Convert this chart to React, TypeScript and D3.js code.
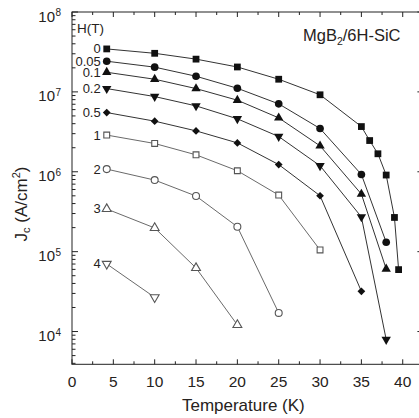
import * as d3 from "d3";
import { useEffect, useRef } from "react";

// field labels, H (T)
const fields = ["0", "0.05", "0.1", "0.2", "0.5", "1", "2", "3", "4"];

// temperatures (K) per curve
const tH0 = [4.2, 10, 15, 20, 25, 30, 35, 36, 37, 38, 39, 39.5];
const tH005 = [4.2, 10, 15, 20, 25, 30, 35, 38];
const tH01 = [4.2, 10, 15, 20, 25, 30, 35, 38];
const tH02 = [4.2, 10, 15, 20, 25, 30, 35, 38];
const tH05 = [4.2, 10, 15, 20, 25, 30, 35];
const tH1 = [4.2, 10, 15, 20, 25, 30];
const tH2 = [4.2, 10, 15, 20, 25];
const tH3 = [4.2, 10, 15, 20];
const tH4 = [4.2, 10];

// Jc (A/cm2) per curve
const jcH0 = [3.45e7, 3.04e7, 2.57e7, 2.05e7, 1.44e7, 9.2e6, 3.68e6, 2.46e6, 1.68e6, 9.1e5, 2.68e5, 5.96e4];
const jcH005 = [2.42e7, 2.04e7, 1.57e7, 1.11e7, 7.08e6, 3.48e6, 9.25e5, 1.31e5];
const jcH01 = [1.76e7, 1.44e7, 1.1e7, 7.87e6, 4.73e6, 2.11e6, 5.26e5, 6.08e4];
const jcH02 = [1.1e7, 8.74e6, 6.68e6, 4.6e6, 2.76e6, 1.19e6, 2.72e5, 7.94e3];
const jcH05 = [5.51e6, 4.3e6, 3.25e6, 2.3e6, 1.23e6, 5.01e5, 3.19e4];
const jcH1 = [2.88e6, 2.26e6, 1.63e6, 1.03e6, 5.11e5, 1.05e5];
const jcH2 = [1.08e6, 7.87e5, 4.97e5, 2.05e5, 1.71e4];
const jcH3 = [3.42e5, 1.98e5, 6.25e4, 1.21e4];
const jcH4 = [7.02e4, 2.68e4];

const xTickLabels = ["0", "5", "10", "15", "20", "25", "30", "35", "40"];
const yDecades = [4, 5, 6, 7, 8];

const temps = [tH0, tH005, tH01, tH02, tH05, tH1, tH2, tH3, tH4];
const jcs = [jcH0, jcH005, jcH01, jcH02, jcH05, jcH1, jcH2, jcH3, jcH4];
// marker: shape, filled?, rotation, size
const markers: [d3.SymbolType, boolean, number, number][] = [
  [d3.symbolSquare, true, 0, 46],
  [d3.symbolCircle, true, 0, 46],
  [d3.symbolTriangle, true, 0, 38],
  [d3.symbolTriangle, true, 180, 38],
  [d3.symbolSquare, true, 45, 30],
  [d3.symbolSquare, false, 0, 34],
  [d3.symbolCircle, false, 0, 38],
  [d3.symbolTriangle, false, 0, 34],
  [d3.symbolTriangle, false, 180, 34],
];

const W = 419,
  H = 418;
const FONT = "'Liberation Sans', Arial, sans-serif";
const TXT = "#262220";

export default function App() {
  const ref = useRef<SVGSVGElement>(null);

  useEffect(() => {
    const svg = d3.select(ref.current);
    svg.selectAll("*").remove();

    const left = 72,
      right = 423.4,
      top = 12,
      bottom = 364.3;
    const x = d3.scaleLinear().domain([0, 42.5]).range([left, right]);
    const y = d3.scaleLog().domain([Math.pow(10, 3.59), 1e8]).range([bottom, top]);

    // frame
    const frame = svg.append("g").attr("stroke", "#222").attr("stroke-width", 1).attr("fill", "none");
    frame.append("rect").attr("x", left).attr("y", top).attr("width", right - left).attr("height", bottom - top);

    // x ticks (bottom + top, inward)
    d3.range(0, 42.5, 2.5).forEach((v) => {
      const len = v % 5 === 0 ? 5 : 3;
      frame.append("line").attr("x1", x(v)).attr("x2", x(v)).attr("y1", bottom).attr("y2", bottom - len);
      frame.append("line").attr("x1", x(v)).attr("x2", x(v)).attr("y1", top).attr("y2", top + len);
    });

    // y ticks (left + right, inward)
    y.ticks().forEach((v) => {
      const major = Math.abs(Math.log10(v) - Math.round(Math.log10(v))) < 1e-9;
      const len = major ? 6 : 3.5;
      frame.append("line").attr("x1", left).attr("x2", left + len).attr("y1", y(v)).attr("y2", y(v));
      frame.append("line").attr("x1", right).attr("x2", right - len).attr("y1", y(v)).attr("y2", y(v));
    });

    // x tick labels
    svg
      .append("g")
      .selectAll("text")
      .data(xTickLabels)
      .join("text")
      .attr("x", (d) => x(+d))
      .attr("y", 387)
      .attr("text-anchor", "middle")
      .attr("font-family", FONT)
      .attr("font-size", 15.5)
      .attr("fill", TXT)
      .text((d) => d);

    // y tick labels 10^n
    const yl = svg.append("g").attr("font-family", FONT).attr("fill", TXT);
    yDecades.forEach((p) => {
      const yy = y(Math.pow(10, p));
      yl.append("text").attr("x", 55).attr("y", yy + 9.5).attr("text-anchor", "end").attr("font-size", 15).text("10");
      yl.append("text").attr("x", 55.5).attr("y", yy + 4).attr("font-size", 10).text(String(p));
    });

    // axis titles
    svg
      .append("text")
      .attr("x", (left + x(40)) / 2 + 6)
      .attr("y", 411)
      .attr("text-anchor", "middle")
      .attr("font-family", FONT)
      .attr("font-size", 17)
      .attr("fill", TXT)
      .text("Temperature (K)");

    const yt = svg
      .append("text")
      .attr("transform", "translate(27,204) rotate(-90)")
      .attr("text-anchor", "middle")
      .attr("font-family", FONT)
      .attr("font-size", 17)
      .attr("fill", TXT);
    yt.append("tspan").text("J");
    yt.append("tspan").attr("font-size", 11).attr("dy", 3).text("c");
    yt.append("tspan").attr("dy", -3).text(" (A/cm");
    yt.append("tspan").attr("font-size", 11).attr("dy", -7).text("2");
    yt.append("tspan").attr("dy", 7).text(")");

    // sample label
    const st = svg
      .append("text")
      .attr("x", 303)
      .attr("y", 41)
      .attr("font-family", FONT)
      .attr("font-size", 16.5)
      .attr("fill", TXT);
    st.append("tspan").text("MgB");
    st.append("tspan").attr("font-size", 10.5).attr("dy", 4).text("2");
    st.append("tspan").attr("dy", -4).text("/6H-SiC");

    // curves
    const line = d3
      .line<[number, number]>()
      .x((d) => x(d[0]))
      .y((d) => y(d[1]));

    temps.forEach((ts, i) => {
      const pts: [number, number][] = ts.map((t, j) => [t, jcs[i][j]]);
      const [shape, filled, rot, size] = markers[i];
      const col = filled ? "#333" : "#6a6a6a";
      svg
        .append("path")
        .attr("d", line(pts))
        .attr("fill", "none")
        .attr("stroke", col)
        .attr("stroke-width", 1);
      svg
        .append("g")
        .selectAll("path")
        .data(pts)
        .join("path")
        .attr("d", d3.symbol(shape, size)() as string)
        .attr("transform", (d) => `translate(${x(d[0])},${y(d[1])}) rotate(${rot})`)
        .attr("fill", filled ? "#111" : "#fff")
        .attr("stroke", filled ? "none" : "#555")
        .attr("stroke-width", 1.1);

      // field label at the first point
      svg
        .append("text")
        .attr("x", x(ts[0]) - 6)
        .attr("y", y(jcs[i][0]) + 4.5)
        .attr("text-anchor", "end")
        .attr("font-family", FONT)
        .attr("font-size", 13)
        .attr("fill", TXT)
        .text(fields[i]);
    });

    svg
      .append("text")
      .attr("x", 77)
      .attr("y", 33)
      .attr("font-family", FONT)
      .attr("font-size", 13.5)
      .attr("fill", TXT)
      .text("H(T)");
  }, []);

  return (
    <div style={{ position: "fixed", left: 0, top: 0, background: "#fff" }}>
      <svg ref={ref} width={W} height={H} style={{ display: "block" }} />
    </div>
  );
}
